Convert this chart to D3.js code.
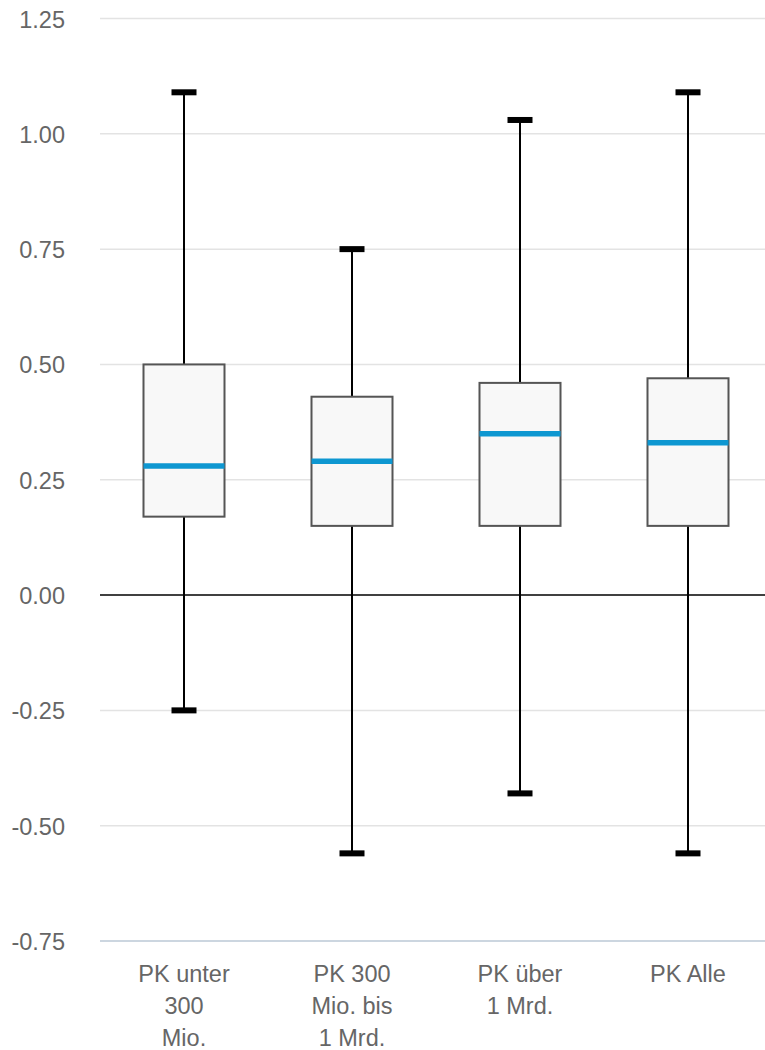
<!DOCTYPE html>
<html><head><meta charset="utf-8">
<script src="https://cdn.jsdelivr.net/npm/d3@7"></script>
<style>html,body{margin:0;padding:0;background:#fff;}svg{display:block;}</style>
</head><body>
<svg id="chart" width="765" height="1050"></svg>
<script>
const categories = [["PK unter","300","Mio."],["PK 300","Mio. bis","1 Mrd."],["PK über","1 Mrd."],["PK Alle"]];
const whiskerLow = [-0.25, -0.56, -0.43, -0.56];
const q1 = [0.17, 0.15, 0.15, 0.15];
const median = [0.28, 0.29, 0.35, 0.33];
const q3 = [0.50, 0.43, 0.46, 0.47];
const whiskerHigh = [1.09, 0.75, 1.03, 1.09];
const yTicks = [1.25, 1.00, 0.75, 0.50, 0.25, 0.00, -0.25, -0.50, -0.75];

const svg = d3.select("#chart");
const font = "'Liberation Sans', Arial, sans-serif";
const fs = 23.5;
const y = d3.scaleLinear().domain([-0.75, 1.25]).range([941, 18.5]);
const x = d3.scaleBand().domain(d3.range(categories.length)).range([100, 772]).paddingInner(0).paddingOuter(0);
const bw = 81, capW = 25;

// gridlines
svg.append("g").selectAll("line").data(yTicks.filter(t => t !== 0 && t !== -0.75)).join("line")
  .attr("x1", 100).attr("x2", 765).attr("y1", d => y(d)).attr("y2", d => y(d))
  .attr("stroke", "#e3e3e3").attr("stroke-width", 1.5);

// tick labels via axis
const ax = svg.append("g").attr("transform", "translate(65,0)")
  .call(d3.axisLeft(y).tickValues(yTicks).tickFormat(d => d.toFixed(2)).tickSize(0).tickPadding(0));
ax.select(".domain").remove();
ax.attr("font-size", null).attr("font-family", null);
ax.selectAll("text").attr("dy", null).attr("dominant-baseline", null)
  .attr("y", 8.5)
  .attr("font-family", font).attr("font-size", fs).attr("fill", "#666");

// bottom axis line
svg.append("line").attr("x1", 100).attr("x2", 765).attr("y1", y(-0.75)).attr("y2", y(-0.75))
  .attr("stroke", "#ccd6e0").attr("stroke-width", 2);

const g = svg.append("g");
const idx = d3.range(categories.length);
const cx = i => x(i) + x.bandwidth() / 2;

// whisker stems
g.selectAll(".stem").data(idx).join("line")
  .attr("x1", cx).attr("x2", cx)
  .attr("y1", i => y(whiskerHigh[i])).attr("y2", i => y(whiskerLow[i]))
  .attr("stroke", "#000").attr("stroke-width", 2);
// caps
g.selectAll(".capH").data(idx).join("rect")
  .attr("x", i => cx(i) - capW / 2).attr("width", capW)
  .attr("y", i => y(whiskerHigh[i]) - 3).attr("height", 6).attr("fill", "#000");
g.selectAll(".capL").data(idx).join("rect")
  .attr("x", i => cx(i) - capW / 2).attr("width", capW)
  .attr("y", i => y(whiskerLow[i]) - 3).attr("height", 6).attr("fill", "#000");
// boxes
g.selectAll(".box").data(idx).join("rect")
  .attr("x", i => cx(i) - bw / 2).attr("width", bw)
  .attr("y", i => y(q3[i])).attr("height", i => y(q1[i]) - y(q3[i]))
  .attr("fill", "#f8f8f8").attr("stroke", "#555").attr("stroke-width", 2);
// medians
g.selectAll(".med").data(idx).join("line")
  .attr("x1", i => cx(i) - bw / 2).attr("x2", i => cx(i) + bw / 2)
  .attr("y1", i => y(median[i])).attr("y2", i => y(median[i]))
  .attr("stroke", "#0e97d1").attr("stroke-width", 5.5);

// zero line
svg.append("line").attr("x1", 100).attr("x2", 765).attr("y1", y(0)).attr("y2", y(0))
  .attr("stroke", "#000").attr("stroke-width", 1.5);

// category labels
const lab = svg.append("g").selectAll("text").data(idx).join("text")
  .attr("x", cx).attr("y", 982).attr("text-anchor", "middle")
  .attr("font-family", font).attr("font-size", fs).attr("fill", "#666");
lab.each(function(i) {
  d3.select(this).selectAll("tspan").data(categories[i]).join("tspan")
    .attr("x", cx(i)).attr("dy", (d, k) => k === 0 ? 0 : 32).text(d => d);
});
</script>
</body></html>
